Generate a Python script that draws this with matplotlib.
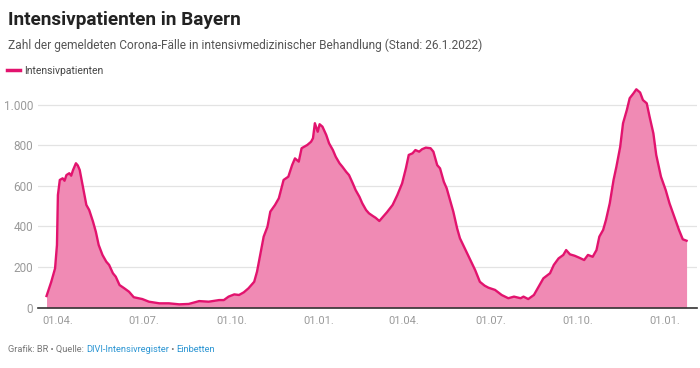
import matplotlib
matplotlib.use("Agg")
import matplotlib.pyplot as plt
import matplotlib.dates as mdates
import matplotlib.ticker as mticker
import pandas as pd

plt.rcParams['font.family'] = ['Roboto', 'DejaVu Sans']

dates = [
    "2020-03-20", "2020-03-25", "2020-03-29", "2020-03-31", "2020-04-01", "2020-04-03",
    "2020-04-06", "2020-04-08", "2020-04-10", "2020-04-13", "2020-04-15", "2020-04-17",
    "2020-04-20", "2020-04-22", "2020-04-24", "2020-04-27", "2020-05-01", "2020-05-04",
    "2020-05-08", "2020-05-11", "2020-05-14", "2020-05-18", "2020-05-22", "2020-05-25",
    "2020-05-29", "2020-06-01", "2020-06-05", "2020-06-10", "2020-06-15", "2020-06-20",
    "2020-06-29", "2020-07-06", "2020-07-17", "2020-07-27", "2020-08-07", "2020-08-17",
    "2020-08-28", "2020-09-07", "2020-09-18", "2020-09-23", "2020-09-28", "2020-10-04",
    "2020-10-09", "2020-10-14", "2020-10-19", "2020-10-25", "2020-10-28", "2020-11-01",
    "2020-11-04", "2020-11-08", "2020-11-11", "2020-11-16", "2020-11-20", "2020-11-25",
    "2020-11-30", "2020-12-04", "2020-12-07", "2020-12-11", "2020-12-14", "2020-12-20",
    "2020-12-24", "2020-12-26", "2020-12-28", "2020-12-31", "2021-01-02", "2021-01-05",
    "2021-01-09", "2021-01-12", "2021-01-16", "2021-01-19", "2021-01-23", "2021-01-26",
    "2021-01-30", "2021-02-02", "2021-02-06", "2021-02-09", "2021-02-13", "2021-02-16",
    "2021-02-20", "2021-02-23", "2021-02-27", "2021-03-02", "2021-03-06", "2021-03-09",
    "2021-03-14", "2021-03-20", "2021-03-25", "2021-03-30", "2021-04-03", "2021-04-06",
    "2021-04-10", "2021-04-13", "2021-04-17", "2021-04-20", "2021-04-24", "2021-04-29",
    "2021-05-02", "2021-05-06", "2021-05-09", "2021-05-13", "2021-05-16", "2021-05-20",
    "2021-05-23", "2021-05-27", "2021-05-30", "2021-06-04", "2021-06-10", "2021-06-15",
    "2021-06-20", "2021-06-25", "2021-06-29", "2021-07-06", "2021-07-13", "2021-07-20",
    "2021-07-26", "2021-08-02", "2021-08-05", "2021-08-10", "2021-08-16", "2021-08-21",
    "2021-08-26", "2021-09-02", "2021-09-06", "2021-09-11", "2021-09-16", "2021-09-19",
    "2021-09-23", "2021-09-28", "2021-10-03", "2021-10-08", "2021-10-12", "2021-10-17",
    "2021-10-21", "2021-10-24", "2021-10-28", "2021-10-31", "2021-11-04", "2021-11-08",
    "2021-11-11", "2021-11-15", "2021-11-18", "2021-11-22", "2021-11-25", "2021-11-29",
    "2021-12-02", "2021-12-06", "2021-12-09", "2021-12-13", "2021-12-16", "2021-12-20",
    "2021-12-23", "2021-12-28", "2022-01-02", "2022-01-06", "2022-01-11", "2022-01-16",
    "2022-01-20", "2022-01-24",
]
patients = [
    58, 128, 194, 309, 555, 629,
    637, 625, 653, 662, 650, 678,
    711, 700, 678, 604, 506, 481,
    424, 374, 309, 260, 227, 211,
    170, 153, 112, 96, 79, 52,
    43, 30, 22, 22, 17, 19,
    33, 30, 38, 38, 55, 66,
    63, 76, 96, 128, 178, 276,
    350, 399, 473, 506, 539, 629,
    645, 702, 735, 719, 785, 801,
    817, 834, 908, 866, 903, 891,
    850, 809, 776, 743, 711, 694,
    669, 653, 612, 579, 546, 514,
    481, 465, 452, 443, 427, 443,
    470, 506, 555, 612, 686, 752,
    760, 776, 768, 780, 788, 785,
    768, 702, 686, 620, 588, 522,
    473, 391, 342, 293, 235, 186,
    128, 109, 99, 88, 63, 47,
    55, 47, 55, 43, 63, 104,
    145, 170, 211, 243, 260, 284,
    263, 256, 246, 235, 260, 251,
    284, 350, 383, 432, 514, 629,
    694, 792, 908, 973, 1031, 1055,
    1075, 1059, 1022, 1006, 940, 858,
    752, 645, 579, 514, 448, 383,
    337, 330,
]
x_ticks = ["2020-04-01", "2020-07-01", "2020-10-01", "2021-01-01",
           "2021-04-01", "2021-07-01", "2021-10-01", "2022-01-01"]
y_ticks = [0, 200, 400, 600, 800, 1000]

title = "Intensivpatienten in Bayern"
subtitle = "Zahl der gemeldeten Corona-Fälle in intensivmedizinischer Behandlung (Stand: 26.1.2022)"
series_name = "Intensivpatienten"

LINE = "#e2136e"
FILL = "#f08ab4"

W, H = 700, 368
fig = plt.figure(figsize=(W / 100, H / 100), dpi=100)

def fx(px):
    return px / W

def fy(py):
    return 1 - py / H

ax = fig.add_axes([fx(38), fy(307.8), fx(697) - fx(38), (307.8 - 84.2) / H])
x = pd.to_datetime(dates)
ax.fill_between(x, patients, 0, color=FILL, linewidth=0, zorder=2)
ax.plot(x, patients, color=LINE, linewidth=1.7, solid_joinstyle='round', zorder=3)

ax.set_xlim(pd.Timestamp("2020-03-11"), pd.Timestamp("2022-02-04"))
ax.set_ylim(0, 1100)
ax.set_yticks(y_ticks)
ax.yaxis.set_major_formatter(mticker.FuncFormatter(lambda v, p: f"{int(v):,}".replace(",", ".")))
ax.set_xticks(pd.to_datetime(x_ticks))
ax.xaxis.set_major_formatter(mdates.DateFormatter("%d.%m."))

ax.grid(axis='y', color="#e3e3e3", linewidth=0.9, zorder=1)
ax.grid(axis='x', visible=False)
for s in ['top', 'right', 'left']:
    ax.spines[s].set_visible(False)
ax.spines['bottom'].set_color("#333333")
ax.spines['bottom'].set_linewidth(1.2)
ax.spines['bottom'].set_zorder(4)
ax.tick_params(axis='y', length=0, pad=3.5, labelsize=8.5, labelcolor="#9a9a9a")
ax.tick_params(axis='x', length=0, pad=6, labelsize=8, labelcolor="#9a9a9a")
ax.set_axisbelow(True)

fig.text(fx(8), fy(25), title, fontsize=13.7, fontweight='bold', color="#222222", va='baseline')
fig.text(fx(8), fy(49), subtitle, fontsize=8.6, color="#555555", va='baseline')

fig.add_artist(plt.Line2D([fx(7), fx(20)], [fy(70), fy(70)], color=LINE, linewidth=2.5))
fig.text(fx(24), fy(73.5), series_name, fontsize=7.5, color="#444444", va='baseline')

# footer
parts = [("Grafik: BR • Quelle: ", "#777777"), ("DIVI-Intensivregister", "#2b95d3"),
         (" • ", "#777777"), ("Einbetten", "#2b95d3")]
fig.canvas.draw()
r = fig.canvas.get_renderer()
cur = 8
for txt, col in parts:
    t = fig.text(fx(cur), fy(352), txt, fontsize=6.7, color=col, va='baseline')
    bb = t.get_window_extent(renderer=r)
    cur += bb.width

fig.savefig("out.png", dpi=100)
